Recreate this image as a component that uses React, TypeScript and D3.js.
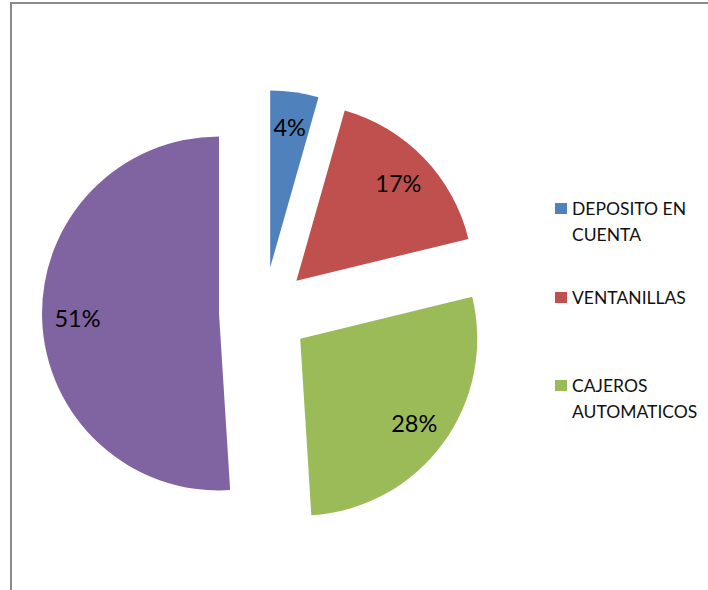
import React from "react";
import * as d3 from "d3";

const categories = ["DEPOSITO EN CUENTA", "VENTANILLAS", "CAJEROS AUTOMATICOS", ""];
const values = [4.4, 16.8, 27.8, 51.0];
const colors = ["#4F81BD", "#C0504D", "#9BBB59", "#8064A2"];
const legendLines = [["DEPOSITO EN", "CUENTA"], ["VENTANILLAS"], ["CAJEROS", "AUTOMATICOS"]];
const legendTops = [203, 292, 380];

export default function App() {
  const W = 708, H = 590;
  const cx = 264, cy = 312, R = 177, explode = 45;
  const total = d3.sum(values);
  const pie = d3.pie<number>().sort(null).value((d) => d);
  const arcs = pie(values);
  const arc = d3.arc<d3.PieArcDatum<number>>().innerRadius(0).outerRadius(R);

  return (
    <svg width={W} height={H} style={{ position: "absolute", left: 0, top: 0, background: "#fff" }}>
      <rect x={11} y={3} width={W + 20} height={H + 20} fill="#fff" stroke="#8a8a8a" strokeWidth={2} />
      <g transform={`translate(${cx},${cy})`}>
        {arcs.map((a, i) => {
          const mid = (a.startAngle + a.endAngle) / 2;
          const ox = Math.sin(mid) * explode;
          const oy = -Math.cos(mid) * explode;
          const lr = R * 0.8;
          const lx = ox + Math.sin(mid) * lr;
          const ly = oy - Math.cos(mid) * lr;
          return (
            <g key={i}>
              <path d={arc(a) || ""} transform={`translate(${ox},${oy})`} fill={colors[i]} />
              <text x={lx} y={ly} textAnchor="middle" dominantBaseline="central"
                fontFamily="Lato, 'Open Sans', sans-serif" fontSize={23.5} fill="#000">
                {`${Math.round((values[i] / total) * 100)}%`}
              </text>
            </g>
          );
        })}
      </g>
      {categories.map((c, i) => c === "" ? null : (
        <g key={c}>
          <rect x={555} y={legendTops[i]} width={12} height={11} fill={colors[i]} />
          {legendLines[i].map((line, j) => (
            <text key={j} x={572} y={legendTops[i] + 12 + j * 26} fontFamily="Lato, 'Open Sans', sans-serif"
              fontSize={17.5} fill="#111">{line}</text>
          ))}
        </g>
      ))}
    </svg>
  );
}
